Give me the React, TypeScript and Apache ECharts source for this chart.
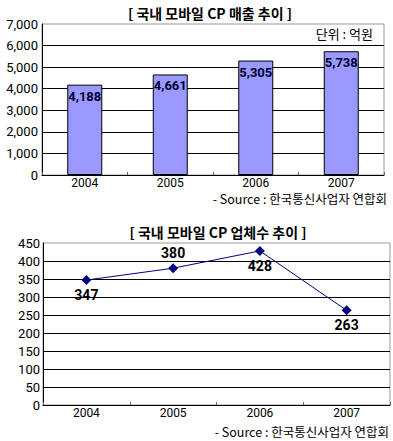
import React, { useEffect, useRef } from "react";
import * as echarts from "echarts";

const years = ["2004", "2005", "2006", "2007"];
const revenue = [4188, 4661, 5305, 5738];
const companies = [347, 380, 428, 263];
const companyLabelPos = ["bottom", "top", "bottom", "bottom"];

const title1 = "[ 국내 모바일 CP 매출 추이 ]";
const title2 = "[ 국내 모바일 CP 업체수 추이 ]";
const unitText = "단위 : 억원";
const sourceText = "- Source : 한국통신사업자 연합회";

const FONT = "Roboto, 'Noto Sans CJK KR', sans-serif";
const KFONT = "'Noto Sans CJK KR', sans-serif";

export default function App() {
  const ref = useRef<HTMLDivElement>(null);
  useEffect(() => {
    if (!ref.current) return;
    const chart = echarts.init(ref.current, null, { renderer: "svg" });
    const fmt = (v: number) => v.toLocaleString("en-US");
    const xAxisCommon = {
      type: "category" as const,
      data: years,
      axisLine: { lineStyle: { color: "#000", width: 1 } },
      axisTick: { show: true, inside: true, length: 3, lineStyle: { color: "#666" } },
      axisLabel: { color: "#000", fontSize: 12, fontFamily: FONT, margin: 2 },
    };
    const yAxisCommon = {
      type: "value" as const,
      axisLine: { show: true, lineStyle: { color: "#000", width: 1 } },
      axisTick: { show: false },
      splitLine: { show: true, showMaxLine: false, lineStyle: { color: "#000", width: 1 } },
    };
    chart.setOption({
      animation: false,
      backgroundColor: "#fff",
      grid: [
        { left: 42, top: 24, width: 342, height: 151, show: true, borderColor: "#999", borderWidth: 1, backgroundColor: "#fff" },
        { left: 43, top: 243, width: 347, height: 162, show: true, borderColor: "#999", borderWidth: 1, backgroundColor: "#fff" },
      ],
      xAxis: [
        { ...xAxisCommon, gridIndex: 0 },
        { ...xAxisCommon, gridIndex: 1 },
      ],
      yAxis: [
        {
          ...yAxisCommon,
          gridIndex: 0,
          min: 0,
          max: 7000,
          interval: 1000,
          axisLabel: { color: "#000", fontSize: 13, fontFamily: FONT, margin: 4, formatter: (v: number) => fmt(v) },
        },
        {
          ...yAxisCommon,
          gridIndex: 1,
          min: 0,
          max: 450,
          interval: 50,
          axisLabel: { color: "#000", fontSize: 13, fontFamily: FONT, margin: 3 },
        },
      ],
      series: [
        {
          type: "bar",
          xAxisIndex: 0,
          yAxisIndex: 0,
          data: revenue,
          barWidth: 35,
          itemStyle: { color: "#9999ff", borderColor: "#000", borderWidth: 1 },
          label: {
            show: true,
            position: "insideTop",
            distance: 5,
            color: "#000033",
            fontSize: 13,
            fontWeight: "bold",
            fontFamily: FONT,
            formatter: (p: any) => fmt(p.value),
          },
        },
        {
          type: "line",
          xAxisIndex: 1,
          yAxisIndex: 1,
          data: companies.map((v, i) => ({
            value: v,
            label: { position: companyLabelPos[i] },
          })),
          symbol: "diamond",
          symbolSize: 10,
          lineStyle: { color: "#000080", width: 1 },
          itemStyle: { color: "#000080" },
          label: {
            show: true,
            distance: 3,
            color: "#000",
            fontSize: 14,
            fontWeight: "bold",
            fontFamily: FONT,
          },
        },
      ],
      graphic: [
        {
          type: "text",
          x: 210,
          y: 13,
          style: { text: title1, font: `bold 14px ${KFONT}`, fill: "#000", align: "center", verticalAlign: "middle" },
        },
        {
          type: "text",
          x: 373,
          y: 33,
          style: { text: unitText, font: `13px ${KFONT}`, fill: "#000", align: "right", verticalAlign: "middle" },
        },
        {
          type: "text",
          x: 387,
          y: 198,
          style: { text: sourceText, font: `12.5px ${KFONT}`, fill: "#000", align: "right", verticalAlign: "middle" },
        },
        {
          type: "text",
          x: 218,
          y: 232,
          style: { text: title2, font: `bold 14px ${KFONT}`, fill: "#000", align: "center", verticalAlign: "middle" },
        },
        {
          type: "text",
          x: 389,
          y: 431,
          style: { text: sourceText, font: `12.5px ${KFONT}`, fill: "#000", align: "right", verticalAlign: "middle" },
        },
      ],
    });
    return () => chart.dispose();
  }, []);
  return (
    <div
      ref={ref}
      style={{ position: "fixed", left: 0, top: 0, width: 393, height: 441, background: "#fff" }}
    />
  );
}
